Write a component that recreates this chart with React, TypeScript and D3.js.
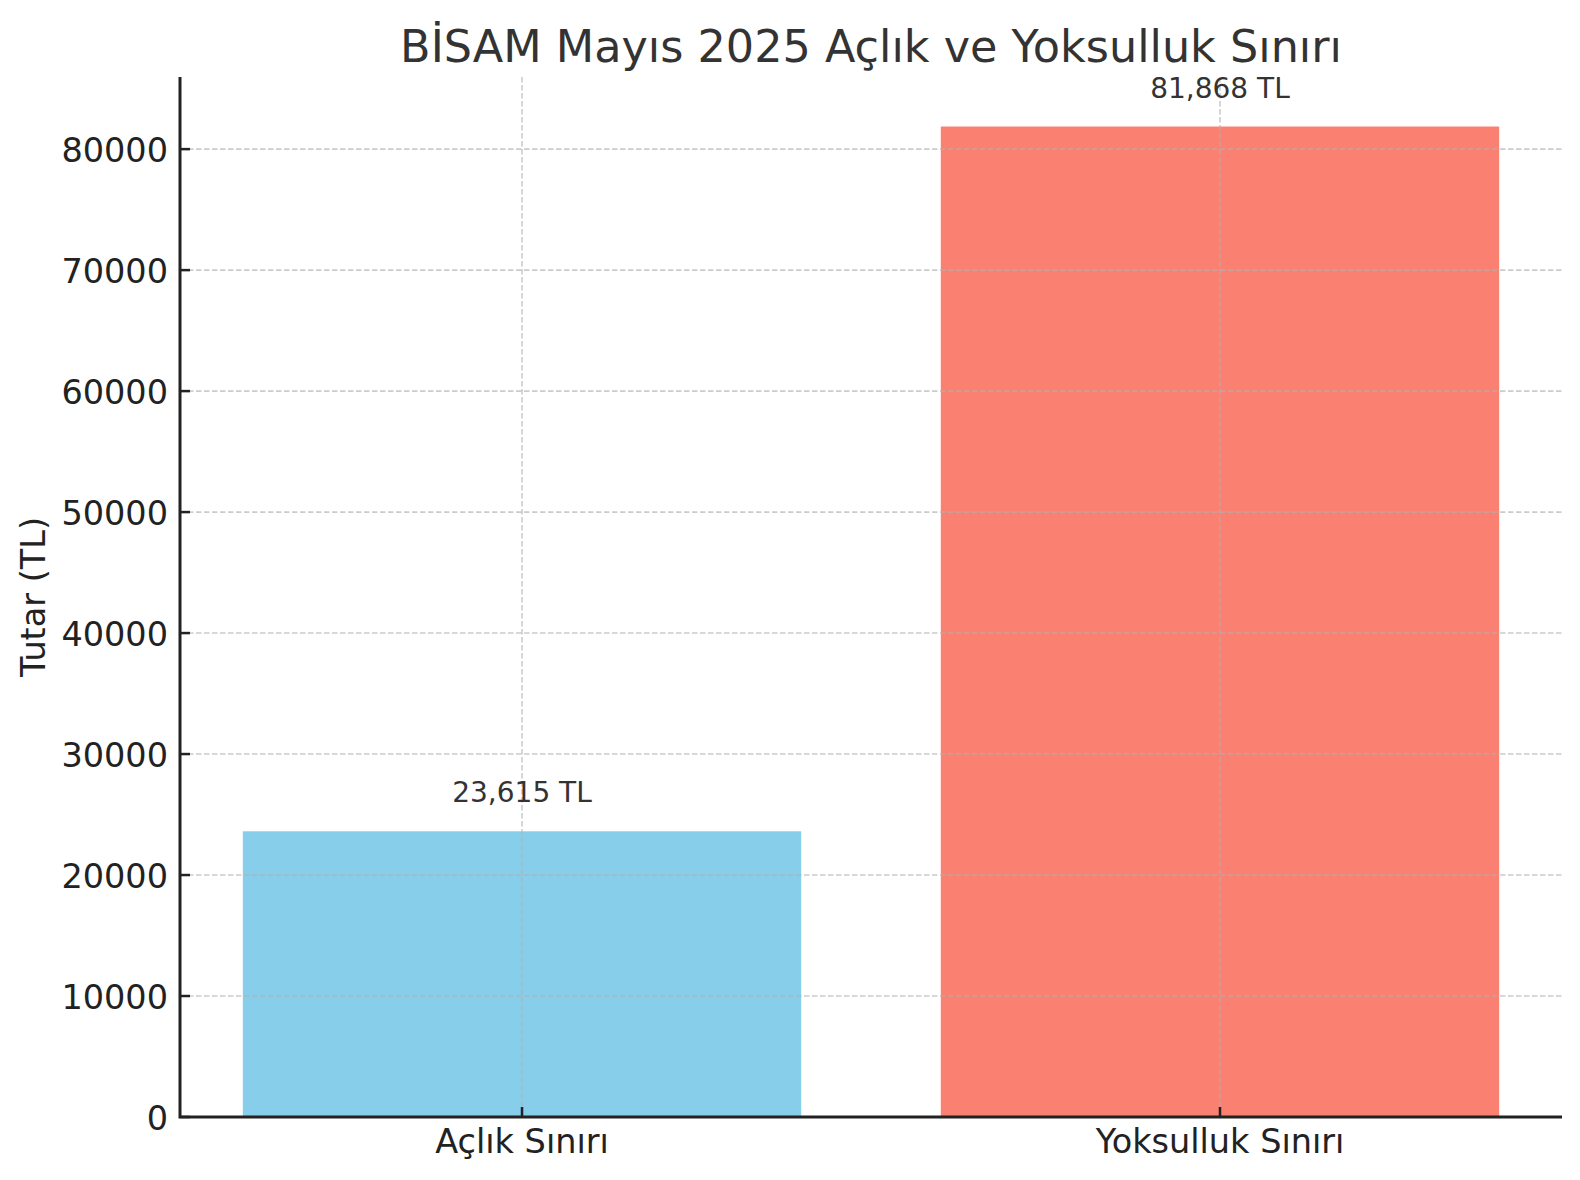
import { useEffect, useRef } from "react";
import * as d3 from "d3";

const categories = ["Açlık Sınırı", "Yoksulluk Sınırı"];
const values = [23615, 81868];
const barColors = ["#87CEEB", "#FA8072"];
const yTicks = [0, 10000, 20000, 30000, 40000, 50000, 60000, 70000, 80000];
const chartTitle = "BİSAM Mayıs 2025 Açlık ve Yoksulluk Sınırı";
const yLabel = "Tutar (TL)";

const WIDTH = 1580;
const HEIGHT = 1180;
const FONT = "'DejaVu Sans', Verdana, sans-serif";

export default function App() {
  const svgRef = useRef<SVGSVGElement>(null);

  useEffect(() => {
    if (!svgRef.current) return;
    const svg = d3.select(svgRef.current);
    svg.selectAll("*").remove();

    const left = 180;
    const right = 1562;
    const top = 77;
    const bottom = 1117;

    // matplotlib style: bars of width 0.8, 5% margins on x
    const x = d3.scaleLinear().domain([-0.49, categories.length - 1 + 0.49]).range([left, right]);
    const y = d3.scaleLinear().domain([0, (d3.max(values) ?? 0) * 1.05]).range([bottom, top]);
    const barW = x(0.4) - x(-0.4);

    // bars
    svg.append("g")
      .selectAll("rect")
      .data(values)
      .join("rect")
      .attr("x", (_, i) => x(i) - barW / 2)
      .attr("y", (d) => y(d))
      .attr("width", barW)
      .attr("height", (d) => y(0) - y(d))
      .attr("fill", (_, i) => barColors[i]);

    // grid, drawn above the bars
    const grid = svg.append("g")
      .attr("stroke", "#b0b0b0")
      .attr("stroke-opacity", 0.65)
      .attr("stroke-width", 1.6)
      .attr("stroke-dasharray", "5.5,2.5");

    grid.selectAll("line.h")
      .data(yTicks)
      .join("line")
      .attr("class", "h")
      .attr("x1", left)
      .attr("x2", right)
      .attr("y1", (d) => y(d))
      .attr("y2", (d) => y(d));

    grid.selectAll("line.v")
      .data(categories)
      .join("line")
      .attr("class", "v")
      .attr("x1", (_, i) => x(i))
      .attr("x2", (_, i) => x(i))
      .attr("y1", top)
      .attr("y2", bottom);

    // value labels
    svg.append("g")
      .selectAll("text")
      .data(values)
      .join("text")
      .attr("x", (_, i) => x(i))
      .attr("y", (d) => y(d) - 29)
      .attr("text-anchor", "middle")
      .attr("font-family", FONT)
      .attr("font-size", 28)
      .attr("fill", "#333333")
      .text((d) => `${d3.format(",")(d)} TL`);

    // y ticks (inward) and labels
    const yAxis = svg.append("g");
    yAxis.selectAll("line")
      .data(yTicks)
      .join("line")
      .attr("x1", left)
      .attr("x2", left + 10)
      .attr("y1", (d) => y(d))
      .attr("y2", (d) => y(d))
      .attr("stroke", "#222222")
      .attr("stroke-width", 2.5);

    yAxis.selectAll("text")
      .data(yTicks)
      .join("text")
      .attr("x", left - 12)
      .attr("y", (d) => y(d))
      .attr("dy", "0.38em")
      .attr("text-anchor", "end")
      .attr("font-family", FONT)
      .attr("font-size", 33.5)
      .attr("fill", "#222222")
      .text((d) => String(d));

    // x ticks (inward) and labels
    const xAxis = svg.append("g");
    xAxis.selectAll("line")
      .data(categories)
      .join("line")
      .attr("x1", (_, i) => x(i))
      .attr("x2", (_, i) => x(i))
      .attr("y1", bottom)
      .attr("y2", bottom - 10)
      .attr("stroke", "#222222")
      .attr("stroke-width", 2.5);

    xAxis.selectAll("text")
      .data(categories)
      .join("text")
      .attr("x", (_, i) => x(i))
      .attr("y", 1153)
      .attr("text-anchor", "middle")
      .attr("font-family", FONT)
      .attr("font-size", 33.5)
      .attr("fill", "#222222")
      .text((d) => d);

    // spines: left and bottom only
    svg.append("path")
      .attr("d", `M${left},${top}V${bottom}H${right}`)
      .attr("fill", "none")
      .attr("stroke", "#222222")
      .attr("stroke-width", 3);

    // axis label
    svg.append("text")
      .attr("transform", `translate(45,${(top + bottom) / 2}) rotate(-90)`)
      .attr("text-anchor", "middle")
      .attr("font-family", FONT)
      .attr("font-size", 33.5)
      .attr("fill", "#222222")
      .text(yLabel);

    // title
    svg.append("text")
      .attr("x", (left + right) / 2)
      .attr("y", 62)
      .attr("text-anchor", "middle")
      .attr("font-family", FONT)
      .attr("font-size", 44.5)
      .attr("fill", "#333333")
      .text(chartTitle);
  }, []);

  return (
    <svg
      ref={svgRef}
      width={WIDTH}
      height={HEIGHT}
      style={{ position: "absolute", left: 0, top: 0, background: "#ffffff" }}
    />
  );
}
